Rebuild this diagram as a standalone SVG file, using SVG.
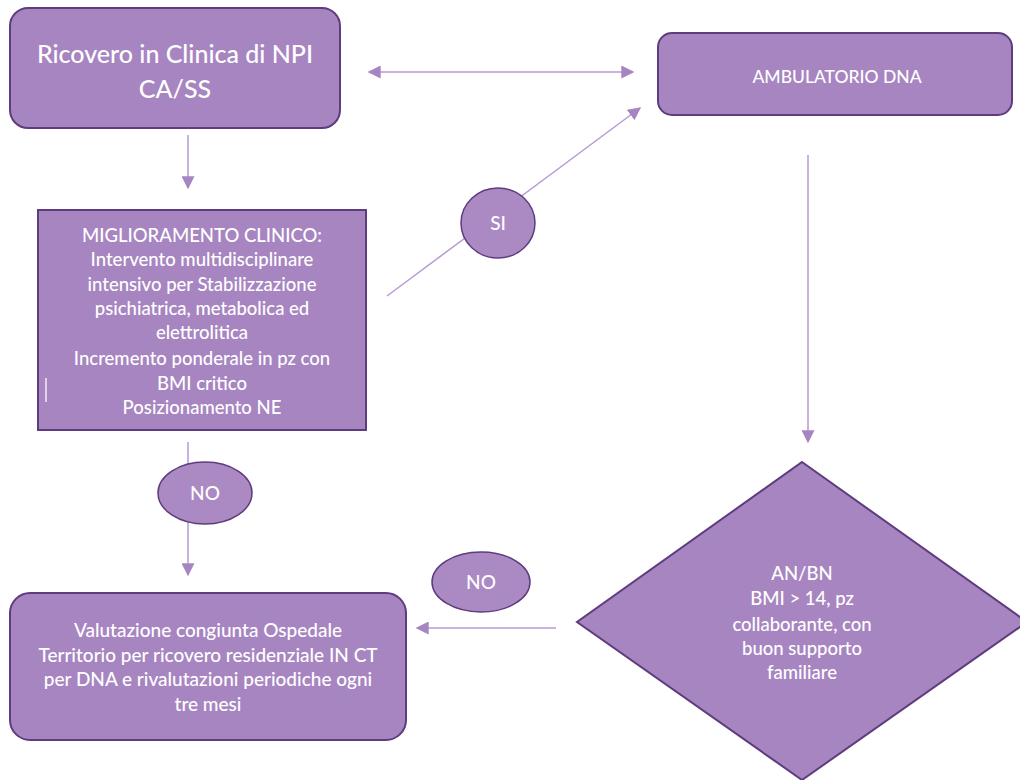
<svg xmlns="http://www.w3.org/2000/svg" width="1020" height="780" viewBox="0 0 1020 780">
<defs>
<style>
.node{fill:#a785c1;stroke:#5e3c7e;stroke-width:2}
.lbl{fill:#ab8ac4;stroke:#5e3c7e;stroke-width:1.5}
.t{font-family:Lato,"Open Sans","Liberation Sans",sans-serif;fill:#ffffff;text-anchor:middle;font-weight:500}
.conn{stroke:#b69ad6;stroke-width:1.5;fill:none}
</style>
<marker id="ah" viewBox="0 0 10 10" refX="9" refY="5" markerWidth="13" markerHeight="13" markerUnits="userSpaceOnUse" orient="auto-start-reverse">
<path d="M0,0 L10,5 L0,10 z" fill="#a785c1"/>
</marker>
</defs>
<rect width="1020" height="780" fill="#ffffff"/>
<g id="connectors">
<line class="conn" x1="369" y1="72" x2="633" y2="72" marker-start="url(#ah)" marker-end="url(#ah)"/>
<line class="conn" x1="387" y1="296" x2="640" y2="108" marker-end="url(#ah)"/>
<line class="conn" x1="188" y1="135" x2="188" y2="188" marker-end="url(#ah)"/>
<line class="conn" x1="188" y1="442" x2="188" y2="575" marker-end="url(#ah)"/>
<line class="conn" x1="808" y1="155" x2="808" y2="442" marker-end="url(#ah)"/>
<line class="conn" x1="556" y1="628" x2="417" y2="628" marker-end="url(#ah)"/>
</g>
<g id="n-ricovero">
<rect class="node" x="10" y="8" width="330" height="120" rx="18"/>
<text class="t" x="175" y="63" font-size="25">Ricovero in Clinica di NPI</text>
<text class="t" x="175" y="98" font-size="25">CA/SS</text>
</g>
<g id="n-ambulatorio">
<rect class="node" x="658" y="33" width="354" height="82" rx="14"/>
<text class="t" x="837" y="83" font-size="17.5">AMBULATORIO DNA</text>
</g>
<g id="n-miglioramento">
<rect class="node" x="38" y="210" width="328" height="220"/>
<g class="t" font-size="18.5">
<text x="202" y="242">MIGLIORAMENTO CLINICO:</text>
<text x="202" y="266">Intervento multidisciplinare</text>
<text x="202" y="291">intensivo per Stabilizzazione</text>
<text x="202" y="315">psichiatrica, metabolica ed</text>
<text x="202" y="339">elettrolitica</text>
<text x="202" y="365">Incremento ponderale in pz con</text>
<text x="202" y="390">BMI critico</text>
<text x="202" y="414">Posizionamento NE</text>
</g>
<line x1="46" y1="378" x2="46" y2="402" stroke="#f2ecf7" stroke-width="1.5"/>
</g>
<g id="n-si">
<ellipse class="lbl" cx="498" cy="223" rx="37" ry="35"/>
<text class="t" x="498" y="230" font-size="19">SI</text>
</g>
<g id="n-no1">
<ellipse class="lbl" cx="205" cy="493" rx="47" ry="31"/>
<text class="t" x="205" y="500" font-size="19">NO</text>
</g>
<g id="n-no2">
<ellipse class="lbl" cx="481" cy="582" rx="49" ry="30"/>
<text class="t" x="481" y="589" font-size="19">NO</text>
</g>
<g id="n-valutazione">
<rect class="node" x="10" y="593" width="396" height="147" rx="20"/>
<g class="t" font-size="19">
<text x="208" y="637">Valutazione congiunta Ospedale</text>
<text x="208" y="662">Territorio per ricovero residenziale IN CT</text>
<text x="208" y="686">per DNA e rivalutazioni periodiche ogni</text>
<text x="208" y="711">tre mesi</text>
</g>
</g>
<g id="n-decisione">
<polygon class="node" points="802,462 1027,622 802,780 577,622"/>
<g class="t" font-size="18.5">
<text x="802" y="580">AN/BN</text>
<text x="802" y="605">BMI &gt; 14, pz</text>
<text x="802" y="631">collaborante, con</text>
<text x="802" y="655">buon supporto</text>
<text x="802" y="679">familiare</text>
</g>
</g>
</svg>
